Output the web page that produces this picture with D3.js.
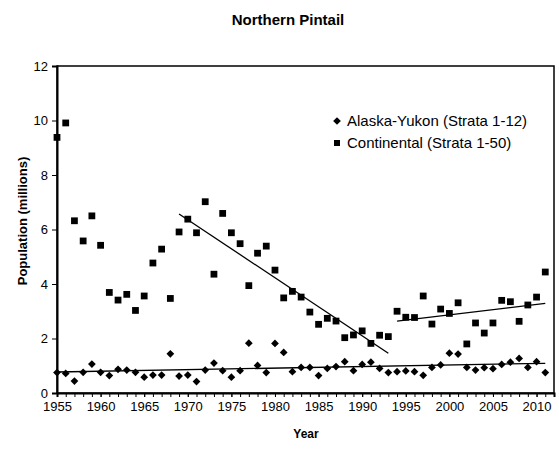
<!DOCTYPE html>
<html>
<head>
<meta charset="utf-8">
<script src="https://cdn.jsdelivr.net/npm/d3@7"></script>
<style>
  html, body { margin: 0; padding: 0; background: #fff; }
  text { font-family: "Liberation Sans", Arial, sans-serif; fill: #000; }
</style>
</head>
<body>
<svg id="chart" width="559" height="449"></svg>
<script>
const years = d3.range(1955, 2012);
const alaskaYukon = [0.75,0.72,0.44,0.76,1.06,0.76,0.64,0.87,0.84,0.76,
  0.58,0.66,0.66,1.44,0.62,0.66,0.42,0.84,1.10,0.82,
  0.58,0.82,1.83,1.01,0.75,1.82,1.49,0.78,0.94,0.94,
  0.64,0.90,0.97,1.15,0.82,1.05,1.13,0.90,0.75,0.78,
  0.81,0.78,0.65,0.94,1.03,1.46,1.43,0.94,0.84,0.93,
  0.89,1.05,1.13,1.27,0.94,1.15,0.75];
const continental = [9.38,9.91,6.32,5.58,6.50,5.42,3.69,3.41,3.62,3.03,
  3.56,4.77,5.28,3.47,5.91,6.38,5.88,7.02,4.36,6.59,
  5.88,5.48,3.94,5.13,5.39,4.51,3.49,3.73,3.52,2.97,
  2.52,2.74,2.64,2.03,2.13,2.28,1.82,2.12,2.07,3.00,
  2.78,2.77,3.56,2.53,3.08,2.92,3.31,1.80,2.57,2.20,
  2.57,3.40,3.35,2.63,3.23,3.52,4.44];
// trend lines: [year, value] end points
const trendAlaska = [[1955, 0.77], [2011, 1.09]];
const trendContDecline = [[1969, 6.57], [1993, 1.46]];
const trendContRise = [[1994, 2.64], [2011, 3.29]];
const yTicks = [0, 2, 4, 6, 8, 10, 12];
const xLabelTicks = d3.range(1955, 2011, 5);
const seriesNames = ["Alaska-Yukon (Strata 1-12)", "Continental (Strata 1-50)"];

const svg = d3.select("#chart");
const mLeft = 57, mRight = 554, mTop = 66, mBottom = 393;
const x = d3.scaleLinear().domain([1955, 2012]).range([mLeft, mRight]);
const y = d3.scaleLinear().domain([0, 12]).range([mBottom, mTop]);

// frame
svg.append("rect").attr("x", mLeft).attr("y", mTop)
  .attr("width", mRight - mLeft).attr("height", mBottom - mTop)
  .attr("fill", "none").attr("stroke", "#000").attr("stroke-width", 1.5);

// y axis
const yAxis = d3.axisLeft(y).tickValues(yTicks).tickSize(5).tickPadding(4).tickFormat(d3.format("d"));
const gy = svg.append("g").attr("transform", `translate(${mLeft},0)`).call(yAxis);
gy.select(".domain").attr("stroke-width", 2);
gy.selectAll(".tick line").attr("stroke-width", 1);
gy.selectAll("text").style("font-size", "13px").style("font-family", "Liberation Sans, Arial, sans-serif");

// x axis: minor ticks every year, labels every 5
const xAxisMinor = d3.axisBottom(x).tickValues(d3.range(1955, 2013)).tickSize(4).tickFormat("");
const gxm = svg.append("g").attr("transform", `translate(0,${mBottom})`).call(xAxisMinor);
gxm.select(".domain").attr("stroke-width", 2);
const xAxis = d3.axisBottom(x).tickValues(xLabelTicks).tickSize(4).tickPadding(5).tickFormat(d3.format("d"));
const gx = svg.append("g").attr("transform", `translate(0,${mBottom})`).call(xAxis);
gx.select(".domain").remove();
gx.selectAll("text").style("font-size", "13px").style("font-family", "Liberation Sans, Arial, sans-serif");

// trend lines
const line = d3.line().x(d => x(d[0])).y(d => y(d[1]));
[trendAlaska, trendContDecline, trendContRise].forEach(t => {
  svg.append("path").attr("d", line(t)).attr("fill", "none")
    .attr("stroke", "#000").attr("stroke-width", 1.3);
});

const diamond = d3.symbol().type(d3.symbolSquare).size(30);
const square = d3.symbol().type(d3.symbolSquare).size(46);

// markers
svg.append("g").selectAll("path").data(years.map((yr, i) => [yr, continental[i]]))
  .join("path").attr("d", square).attr("fill", "#000")
  .attr("transform", d => `translate(${x(d[0])},${y(d[1])})`);
svg.append("g").selectAll("path").data(years.map((yr, i) => [yr, alaskaYukon[i]]))
  .join("path").attr("d", diamond).attr("fill", "#000")
  .attr("transform", d => `translate(${x(d[0])},${y(d[1])}) rotate(45)`);

// legend
const lg = svg.append("g");
const legendItems = [{name: seriesNames[0], sym: diamond, rot: 45}, {name: seriesNames[1], sym: d3.symbol().type(d3.symbolSquare).size(36), rot: 0}];
legendItems.forEach((it, i) => {
  const ly = 121 + i * 22;
  lg.append("path").attr("d", it.sym).attr("fill", "#000")
    .attr("transform", `translate(337,${ly}) rotate(${it.rot})`);
  lg.append("text").attr("x", 347).attr("y", ly + 5).style("font-size", "15px").text(it.name);
});

// titles
svg.append("text").attr("x", 288).attr("y", 25).attr("text-anchor", "middle")
  .style("font-size", "15px").style("font-weight", "bold").text("Northern Pintail");
svg.append("text").attr("x", 306).attr("y", 438).attr("text-anchor", "middle")
  .style("font-size", "12px").style("font-weight", "bold").text("Year");
svg.append("text").attr("transform", "translate(27,221) rotate(-90)").attr("text-anchor", "middle")
  .style("font-size", "13px").style("font-weight", "bold").text("Population (millions)");
</script>
</body>
</html>
